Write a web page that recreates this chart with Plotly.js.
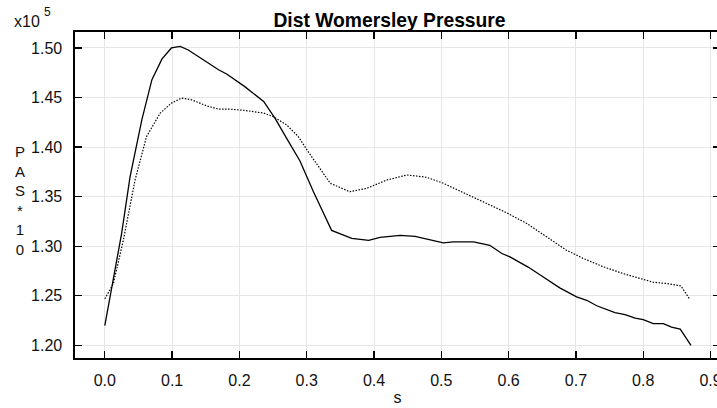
<!DOCTYPE html>
<html>
<head>
<meta charset="utf-8">
<script src="https://cdn.plot.ly/plotly-3.0.1.min.js"></script>
<style>
html, body { margin: 0; padding: 0; overflow: hidden; background: #fff; }
#chart { width: 720px; height: 408px; }
</style>
</head>
<body>
<div id="chart"></div>
<script>
// Solid curve (s, pressure x10^5)
const sSolid = [0.000, 0.025, 0.0375, 0.055, 0.070, 0.085, 0.099, 0.112, 0.124, 0.146, 0.169, 0.181, 0.208, 0.236, 0.253, 0.270, 0.290, 0.310, 0.337, 0.367, 0.392, 0.409, 0.439, 0.461, 0.493, 0.503, 0.518, 0.548, 0.572, 0.590, 0.602, 0.629, 0.647, 0.676, 0.701, 0.716, 0.731, 0.743, 0.758, 0.773, 0.788, 0.800, 0.815, 0.830, 0.842, 0.855, 0.871];
const pSolid = [1.220, 1.313, 1.370, 1.4275, 1.468, 1.489, 1.500, 1.5016, 1.498, 1.488, 1.478, 1.4737, 1.461, 1.446, 1.429, 1.409, 1.386, 1.355, 1.316, 1.308, 1.306, 1.309, 1.311, 1.310, 1.3045, 1.3034, 1.3045, 1.3045, 1.301, 1.2927, 1.2893, 1.279, 1.271, 1.258, 1.249, 1.2455, 1.240, 1.237, 1.233, 1.231, 1.2276, 1.226, 1.222, 1.222, 1.2185, 1.2165, 1.200];

// Dotted curve
const sDotted = [0.000, 0.0126, 0.0275, 0.045, 0.062, 0.082, 0.099, 0.114, 0.129, 0.151, 0.169, 0.186, 0.208, 0.236, 0.250, 0.270, 0.2875, 0.301, 0.335, 0.364, 0.389, 0.419, 0.449, 0.478, 0.503, 0.538, 0.5675, 0.597, 0.627, 0.657, 0.686, 0.711, 0.741, 0.770, 0.795, 0.815, 0.835, 0.856, 0.8695];
const pDotted = [1.247, 1.262, 1.306, 1.367, 1.4106, 1.434, 1.4444, 1.4494, 1.4477, 1.4417, 1.4383, 1.4383, 1.437, 1.4343, 1.4308, 1.4225, 1.4106, 1.3965, 1.3635, 1.355, 1.3584, 1.3668, 1.3719, 1.3696, 1.3635, 1.3527, 1.3433, 1.3338, 1.323, 1.3095, 1.296, 1.2877, 1.2792, 1.2725, 1.268, 1.2637, 1.2624, 1.260, 1.2462];

const titleText = 'Dist Womersley Pressure';
const xTitle = 's';
const yTitleLetters = ['P', 'A', 'S', '*', '1', '0'];
const exponentBase = 'x10';
const exponentPower = '5';

const FONT = 'Liberation Sans, Arial, Helvetica, sans-serif';

const traces = [
  { x: sSolid, y: pSolid, type: 'scatter', mode: 'lines',
    line: { color: '#000', width: 1.3 }, hoverinfo: 'skip' },
  { x: sDotted, y: pDotted, type: 'scatter', mode: 'lines',
    line: { color: '#000', width: 1.2, dash: '1.5px,1.5px' }, hoverinfo: 'skip' }
];

const W = 720, H = 408, L = 75, T = 32, B = 50;
const pw = W - L, ph = H - T - B;
const px = v => (v - L) / pw;
const py = v => (H - B - v) / ph;

const layout = {
  width: W, height: H,
  margin: { l: L, r: 0, t: T, b: B, pad: 0 },
  paper_bgcolor: '#fff', plot_bgcolor: '#fff',
  showlegend: false,
  font: { family: FONT, size: 16, color: '#111' },
  title: { text: '<b>' + titleText + '</b>', font: { family: FONT, size: 19.3, color: '#000' },
           x: 389.5 / W, xref: 'container', xanchor: 'center',
           y: 1 - 20 / H, yref: 'container', yanchor: 'middle' },
  xaxis: {
    range: [-0.0443, 0.9141], autorange: false,
    dtick: 0.1, tick0: 0, tickformat: '.1f',
    ticks: 'inside', ticklen: 7, tickwidth: 1.3, tickcolor: '#000',
    showline: true, linecolor: '#000', linewidth: 1.6, mirror: 'ticks',
    showgrid: true, gridcolor: '#e6e6e6', gridwidth: 1,
    zeroline: false,
    tickfont: { family: FONT, size: 16, color: '#111' },
    ticklabelstandoff: 7,
    ticklabeloverflow: 'allow',
    title: { text: xTitle, font: { family: FONT, size: 16, color: '#111' }, standoff: 4 },
    automargin: false
  },
  yaxis: {
    range: [1.1873, 1.5161], autorange: false,
    dtick: 0.05, tick0: 1.2, tickformat: '.2f',
    ticks: 'inside', ticklen: 7, tickwidth: 1.3, tickcolor: '#000',
    showline: true, linecolor: '#000', linewidth: 1.6, mirror: 'ticks',
    showgrid: true, gridcolor: '#e6e6e6', gridwidth: 1,
    zeroline: false,
    tickfont: { family: FONT, size: 16, color: '#111' },
    ticklabelstandoff: 8,
    automargin: false
  },
  annotations: [
    { text: yTitleLetters.join('<br>'), xref: 'paper', yref: 'paper',
      x: px(20.5), y: py(200), xanchor: 'center', yanchor: 'middle',
      showarrow: false, font: { family: FONT, size: 15, color: '#111' } },
    { text: exponentBase, xref: 'paper', yref: 'paper',
      x: px(12), y: py(21.5), xanchor: 'left', yanchor: 'middle',
      showarrow: false, font: { family: FONT, size: 16, color: '#111' } },
    { text: exponentPower, xref: 'paper', yref: 'paper',
      x: px(42), y: py(12), xanchor: 'left', yanchor: 'middle',
      showarrow: false, font: { family: FONT, size: 12, color: '#111' } }
  ]
};

Plotly.newPlot('chart', traces, layout, { staticPlot: true, displayModeBar: false });
</script>
</body>
</html>
